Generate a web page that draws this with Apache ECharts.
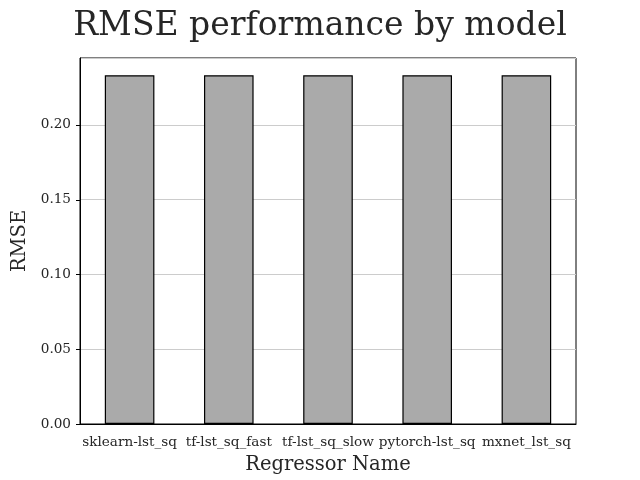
<!DOCTYPE html>
<html><head><meta charset="utf-8">
<script src="https://cdn.jsdelivr.net/npm/echarts@6/dist/echarts.min.js"></script>
<style>html,body{margin:0;padding:0;background:#fff}#c{width:640px;height:480px}</style>
</head><body><div id="c"></div>
<script>
const categories = ['sklearn-lst_sq','tf-lst_sq_fast','tf-lst_sq_slow','pytorch-lst_sq','mxnet_lst_sq'];
const rmseValues = [0.2332, 0.2332, 0.2332, 0.2332, 0.2332];
const yTicks = [0, 0.05, 0.10, 0.15, 0.20];
const F = 'DejaVu Serif, serif';
const chart = echarts.init(document.getElementById('c'));
chart.setOption({
  animation:false,
  backgroundColor:'#fff',
  title:{text:'RMSE performance by model',left:'center',top:5,textStyle:{fontFamily:'DejaVu Serif',fontSize:33,fontWeight:'normal',color:'#262626'}},
  grid:{left:80,right:64,top:58,bottom:53,show:true,borderColor:'#000',borderWidth:1,containLabel:false},
  xAxis:{type:'category',data:categories,name:'Regressor Name',nameLocation:'middle',nameGap:31,
    nameTextStyle:{fontFamily:'DejaVu Serif',fontSize:19.5,color:'#262626'},
    axisLine:{lineStyle:{color:'#000'}},axisTick:{show:false},
    axisLabel:{fontFamily:F,fontSize:13.6,color:'#262626',margin:11,interval:0}},
  yAxis:{type:'value',min:0,max:0.2447,interval:0.05,name:'RMSE',nameLocation:'middle',nameGap:45,
    nameTextStyle:{fontFamily:'DejaVu Serif',fontSize:19.5,color:'#262626'},
    axisLine:{show:true,lineStyle:{color:'#000'}},
    axisTick:{show:false},
    splitLine:{lineStyle:{color:'#cccccc'}},
    axisLabel:{fontFamily:F,fontSize:13.6,color:'#262626',margin:9,customValues:yTicks.slice(),
      formatter:v=>v.toFixed(2)}},
  series:[{type:'bar',data:rmseValues,barWidth:'50%',itemStyle:{color:'#aaaaaa',borderColor:'#000',borderWidth:1.2}}]
});
// y-axis tick marks placed through the library's own scale
const c0 = chart.convertToPixel({xAxisIndex:0}, categories[0]);
const c1 = chart.convertToPixel({xAxisIndex:0}, categories[1]);
const x0 = c0 - (c1 - c0) / 2;
chart.setOption({graphic: yTicks.map(v => {
  const y = Math.round(chart.convertToPixel({yAxisIndex:0}, v)) + 0.5;
  return {type:'line', shape:{x1:x0-4, y1:y, x2:x0, y2:y}, style:{stroke:'#000', lineWidth:1}, silent:true, z:100};
})});
</script></body></html>
